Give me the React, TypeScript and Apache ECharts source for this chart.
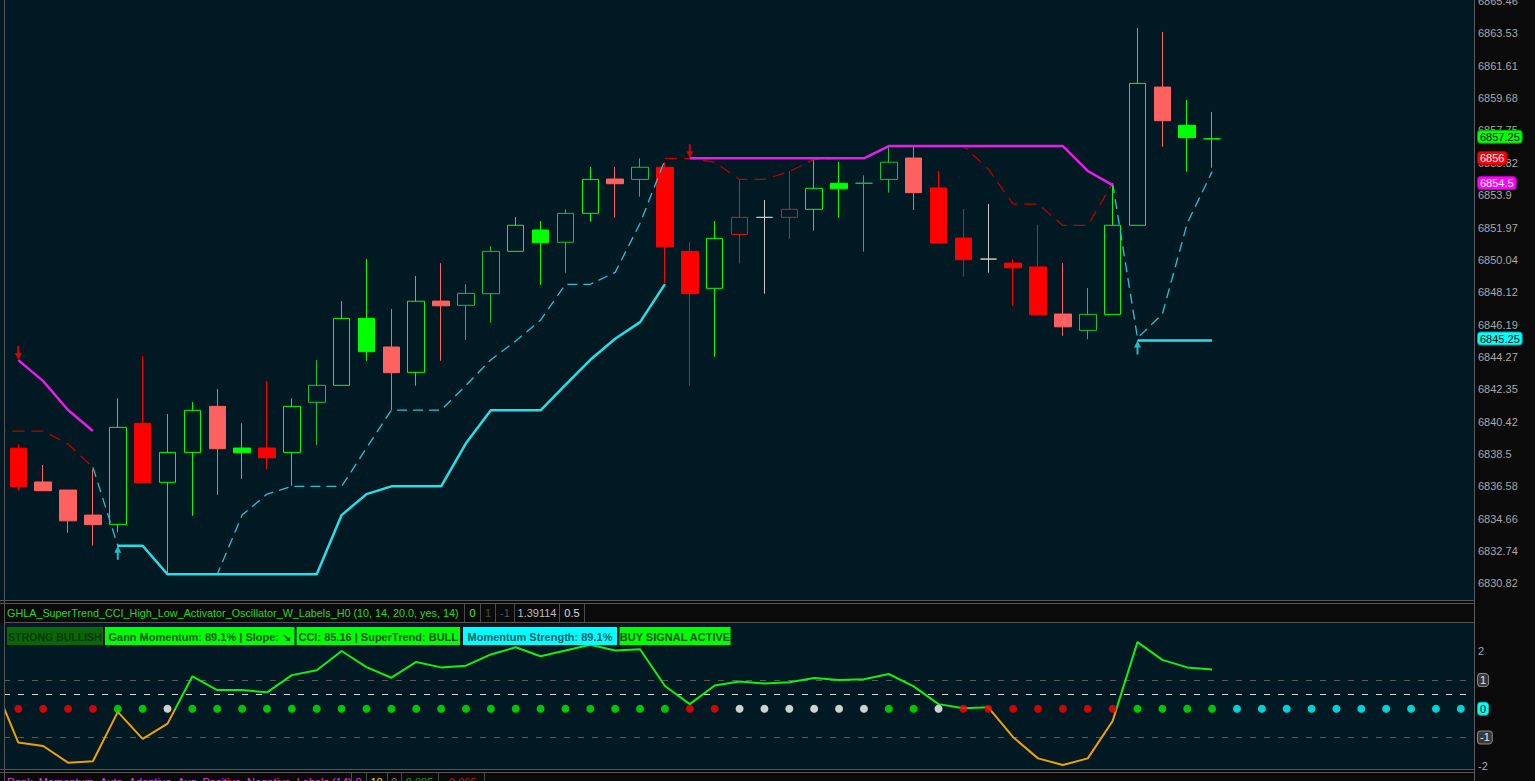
import React, { useEffect, useRef } from "react";
import * as echarts from "echarts";

const FONT = '"Liberation Sans", Arial, sans-serif';

// ---------- DATA ----------
// bar numbers (bar -1 is the partly visible bar at the left edge, bars 49..58 are the empty space on the right)
const FIRST_BAR = -1;
const LAST_BAR = 58;
const X_MIN = -0.575;
const X_MAX = 58.53;

// candles, bars 0..48
const OPEN = [6838.85, 6836.84, 6836.36, 6834.87, 6834.32, 6840.33, 6836.82, 6838.6, 6841.34, 6838.86,
  6838.86, 6838.6, 6841.58, 6842.59, 6846.57, 6844.87, 6843.36, 6847.6, 6847.35, 6848.04,
  6850.56, 6851.83, 6851.1, 6852.82, 6854.86, 6854.84, 6855.56, 6850.56, 6848.36, 6851.57,
  6852.58, 6852.58, 6853.06, 6854.61, 6854.61, 6854.84, 6856.11, 6854.33, 6851.35, 6850.1,
  6849.86, 6849.63, 6846.83, 6845.86, 6846.81, 6852.11, 6860.33, 6858.06, 6857.25];
const CLOSE = [6836.56, 6836.32, 6834.53, 6834.3, 6840.09, 6836.79, 6838.6, 6841.1, 6838.82, 6838.58,
  6838.28, 6841.34, 6842.59, 6846.57, 6844.59, 6843.34, 6847.59, 6847.32, 6848.06, 6850.56,
  6852.11, 6851.07, 6852.82, 6854.84, 6854.58, 6855.56, 6850.83, 6848.04, 6851.33, 6852.58,
  6852.58, 6853.06, 6854.31, 6854.28, 6854.61, 6855.86, 6854.05, 6851.05, 6850.06, 6850.1,
  6849.58, 6846.79, 6846.07, 6846.81, 6852.11, 6860.55, 6858.33, 6857.32, 6857.25];
const LOW = [6836.32, 6836.32, 6833.82, 6833.05, 6833.84, 6836.79, 6831.35, 6834.83, 6836.08, 6837.03,
  6837.59, 6836.62, 6839.05, 6842.59, 6844.05, 6841.12, 6842.57, 6844.05, 6845.3, 6846.31,
  6850.56, 6848.57, 6849.29, 6852.32, 6852.56, 6853.81, 6848.66, 6842.57, 6844.29, 6849.85,
  6848.04, 6851.31, 6851.79, 6852.56, 6850.54, 6854.05, 6853.02, 6851.05, 6849.05, 6849.29,
  6847.32, 6846.79, 6845.54, 6845.33, 6846.81, 6852.11, 6856.78, 6855.3, 6855.53];
const HIGH = [6839.08, 6837.85, 6836.36, 6837.59, 6841.82, 6844.33, 6840.88, 6841.59, 6842.37, 6840.33,
  6842.84, 6841.82, 6844.09, 6847.6, 6850.1, 6847.13, 6849.09, 6849.86, 6848.6, 6850.86,
  6852.6, 6852.36, 6853.06, 6855.58, 6855.58, 6856.09, 6855.86, 6851.1, 6852.36, 6854.84,
  6853.61, 6855.34, 6856.03, 6855.87, 6855.08, 6856.75, 6856.82, 6855.34, 6853.08, 6853.37,
  6850.1, 6852.13, 6849.86, 6848.38, 6854.61, 6863.84, 6863.61, 6859.56, 6858.85];
// candle painting: U hollow green, D hollow dark green, G filled green, R filled red,
// S filled salmon, H hollow red, X grey doji
const CANDLE_KIND = "RSSSURUUSGRUDUGSUSDDUGDUSDRRUHXHUGDDSRRXRRSDUUSGU".split("");

// price axis
const PRICE_MIN = 6829.82;
const PRICE_MAX = 6865.51;
const PRICE_TICKS = [6865.46, 6863.53, 6861.61, 6859.68, 6857.75, 6855.82, 6853.9, 6851.97, 6850.04,
  6848.12, 6846.19, 6844.27, 6842.35, 6840.42, 6838.5, 6836.58, 6834.66, 6832.74, 6830.82];
const PRICE_BADGE_VALUES = [6857.25, 6856, 6854.5, 6845.25];
const PRICE_BADGE_TEXT = ["6857.25", "6856", "6854.5", "6845.25"];

// overlay lines: [first bar, values...]
const RED_DASH: [number, number[]][] = [
  [-1, [6839.87, 6839.87, 6839.87, 6839.1, 6837.71]],
  [26, [6856.09, 6856.09, 6855.85, 6854.84, 6854.84, 6855.3, 6856.03, 6856.09, 6856.09, 6856.82,
    6856.82, 6856.82, 6856.82, 6855.46, 6853.37, 6853.37, 6852.1, 6852.1, 6854.61]],
];
const CYAN_DASH: [number, number[]][] = [
  [3, [6837.71, 6833.05, 6833.05, 6831.35, 6831.35, 6831.35, 6834.87, 6836.12, 6836.58, 6836.58,
    6836.58, 6838.86, 6841.12, 6841.12, 6841.12, 6842.59, 6844.11, 6845.22, 6846.47, 6848.6,
    6848.6, 6849.31, 6852.23, 6855.99]],
  [44, [6854.61, 6845.4, 6846.83, 6852.23, 6855.3]],
];
const CYAN_SOLID: [number, number[]][] = [
  [4, [6833.05, 6833.05, 6831.35, 6831.35, 6831.35, 6831.35, 6831.35, 6831.35, 6831.35, 6834.87,
    6836.12, 6836.58, 6836.58, 6836.58, 6839.14, 6841.1, 6841.1, 6841.1, 6842.61, 6844.11,
    6845.36, 6846.35, 6848.61]],
  [45, [6845.25, 6845.25, 6845.25, 6845.25]],
];
const MAGENTA: [number, number[]][] = [
  [0, [6844.09, 6842.84, 6841.12, 6839.87]],
  [27, [6856.09, 6856.09, 6856.09, 6856.09, 6856.09, 6856.09, 6856.09, 6856.09, 6856.82, 6856.82,
    6856.82, 6856.82, 6856.82, 6856.82, 6856.82, 6856.82, 6855.34, 6854.5]],
];
const SELL_ARROWS: [number, number][] = [[0, 6844.09], [27, 6856.09]];
const BUY_ARROWS: [number, number][] = [[4, 6833.05], [45, 6845.25]];

// oscillator, bars -1..48
const OSC_VALUES = [0.92, -1.18, -1.3, -1.88, -1.83, -0.11, -1.05, -0.52, 1.13, 0.65,
  0.65, 0.57, 1.17, 1.34, 2.01, 1.45, 1.08, 1.63, 1.44, 1.5,
  1.89, 2.14, 1.83, 2.03, 2.23, 2.03, 2.07, 0.79, 0.16, 0.81,
  0.95, 0.88, 0.92, 1.07, 1.0, 1.03, 1.21, 0.78, 0.16, 0.02,
  0.05, -0.99, -1.73, -1.96, -1.73, -0.43, 2.32, 1.7, 1.44, 1.37];
// state dots, bars 0..58
const DOT_STATE = ("RRRRGGW" + "GGGGGGGGGGGGGGGGGGGG" + "RR" + "WWWWWW" + "GG" + "W" + "RRRRRRR" + "GGGG" + "CCCCCCCCCC").split("");
const OSC_MIN = -2.1;
const OSC_MAX = 2.986;
const OSC_TICKS = [2, -2];
const OSC_LEVELS = [1, 0.5, -1, 0];

// texts
const HEADER_TITLE = "GHLA_SuperTrend_CCI_High_Low_Activator_Oscillator_W_Labels_H0 (10, 14, 20.0, yes, 14)";
const HEADER_VALUES = ["0", "1", "-1", "1.39114", "0.5"];
const SIGNAL_LABELS = ["STRONG BULLISH", "Gann Momentum: 89.1% | Slope: \u2198", "CCI: 85.16 | SuperTrend: BULL", "Momentum Strength: 89.1%", "BUY SIGNAL ACTIVE"];
const LOWER_TITLE = "Rank_Momentum_Auto_Adaptive_Avg_Positive_Negative_Labels (14)";
const LOWER_VALUES = ["0", "10", "0", "0.005", "-0.005"];

// ---------- STYLES ----------
const NAVY = "#001923";
const AXIS_TEXT = "#a8a8a8";
const CLEAR = "rgba(0,0,0,0)";
const CANDLE_STYLE: Record<string, { fill: string; stroke: string }> = {
  U: { fill: CLEAR, stroke: "#00ff00" },
  D: { fill: CLEAR, stroke: "#14c43a" },
  G: { fill: "#00ff00", stroke: "#00ff00" },
  R: { fill: "#ff0000", stroke: "#ff0000" },
  S: { fill: "#ff6060", stroke: "#ff6060" },
  H: { fill: CLEAR, stroke: "#e81414" },
  X: { fill: CLEAR, stroke: "#c8c8c8" },
};
const DOT_COLOR: Record<string, string> = { R: "#ff0000", G: "#00f000", W: "#ffffff", C: "#00ffff" };
const BADGE_STYLE = [
  { bg: "#00ff00", fg: "#000000", border: "#00a000" },
  { bg: "#ff0000", fg: "#ffffff", border: "#b00000" },
  { bg: "#ff00ff", fg: "#ffffff", border: "#b000b0" },
  { bg: "#00ffff", fg: "#000000", border: "#00a0a0" },
];
const LEVEL_STYLE = [
  { line: "#5a5a5a", label: { bg: "#3a3a3a", fg: "#e6e6e6", border: "#8a8a8a" } },
  { line: "#d8d8d8", label: null },
  { line: "#5a5a5a", label: { bg: "#3a3a3a", fg: "#e6e6e6", border: "#8a8a8a" } },
  { line: CLEAR, label: { bg: "#00ffff", fg: "#000000", border: "#00b0b0" } },
];
const SIGNAL_BOX = [
  { x: 7, w: 96, bg: "#0b650b", fg: "#063a06", size: 10.5 },
  { x: 105, w: 189.5, bg: "#00ff00", fg: "#0b500b", size: 11 },
  { x: 296.5, w: 163.5, bg: "#00ff00", fg: "#0b500b", size: 11 },
  { x: 463, w: 154, bg: "#00ffff", fg: "#0a5a66", size: 11 },
  { x: 619.5, w: 111, bg: "#00ff00", fg: "#0b500b", size: 11 },
];
const HEADER_CELLS = [
  { x: 472.5, c: "#5fe05f" }, { x: 488, c: "#4c4c4c" }, { x: 505, c: "#555555" },
  { x: 537, c: "#bdbdbd" }, { x: 572, c: "#dcdcdc" },
];
const HEADER_SEPS = [464.5, 480.5, 495.5, 514.5, 559.5, 584.5];
const LOWER_CELLS = [
  { x: 358.5, c: "#e23ee2" }, { x: 376.5, c: "#e6e600" }, { x: 394, c: "#777777" },
  { x: 419.5, c: "#2a8a2a" }, { x: 461, c: "#a82020" },
];
const LOWER_SEPS = [351.5, 366.5, 387.5, 401.5, 438.5, 484.5];

const ARROW_DOWN = "path://M2.5,0 L4.5,0 L4.5,7 L7,7 L3.5,14 L0,7 L2.5,7 Z";
const ARROW_UP = "path://M3.5,0 L7,7 L4.5,7 L4.5,14 L2.5,14 L2.5,7 L0,7 Z";

const ALL_BARS: number[] = Array.from({ length: LAST_BAR - FIRST_BAR + 1 }, (_, k) => k + FIRST_BAR);

function fromSegments(segs: [number, number[]][]) {
  const map = new Map<number, number>();
  segs.forEach(([start, vals]) => vals.forEach((v, i) => map.set(start + i, v)));
  return ALL_BARS.map((b) => [b, map.has(b) ? map.get(b) : "-"]);
}

function buildOption() {
  const candleData = OPEN.map((o, i) => {
    const st = CANDLE_STYLE[CANDLE_KIND[i]];
    return {
      value: [i, o, CLOSE[i], LOW[i], HIGH[i]],
      itemStyle: {
        color: st.fill, color0: st.fill, borderColor: st.stroke, borderColor0: st.stroke,
        borderColorDoji: st.stroke, borderWidth: 1,
      },
    };
  });
  const oscData = OSC_VALUES.map((v, i) => [FIRST_BAR + i, v]);
  const dotData = DOT_STATE.map((s, i) => ({ value: [i, 0], itemStyle: { color: DOT_COLOR[s] } }));
  const empty = ALL_BARS.map((b) => [b, "-"]);

  const lineSeries = (data: any[], color: string, width: number, type: any, z: number) => ({
    type: "line", xAxisIndex: 0, yAxisIndex: 0, data, symbol: "none", connectNulls: false,
    lineStyle: { color, width, type }, z, silent: true,
  });

  const badgeLabel = (text: string, bg: string, fg: string, border: string, dy = 0) => ({
    show: true, position: "end", distance: 4, formatter: text, backgroundColor: bg, color: fg,
    borderColor: border, borderWidth: 1, borderRadius: 3, padding: [1, 2, 0, 2],
    fontSize: 11, fontFamily: FONT, lineHeight: 11, offset: [0, dy],
  });

  const G: any[] = [];
  const gl = (x1: number, y1: number, x2: number, y2: number, stroke: string) =>
    G.push({ type: "line", z: 100, silent: true, shape: { x1, y1, x2, y2 }, style: { stroke, lineWidth: 1 } });
  const gt = (text: string, x: number, y: number, fill: string, font: string, align = "left", va = "middle") =>
    G.push({
      type: "text", z: 102, silent: true, x, y,
      style: { text, fill, font, textAlign: align, align, textVerticalAlign: va, verticalAlign: va },
    });

  // navy strip left of the plotting grids
  G.push({ type: "rect", z: 99, silent: true, shape: { x: 0, y: 0, width: 4, height: 600 }, style: { fill: NAVY } });
  G.push({ type: "rect", z: 99, silent: true, shape: { x: 0, y: 623, width: 4, height: 146 }, style: { fill: NAVY } });
  // header of the oscillator pane
  gt(HEADER_TITLE, 7, 613, "#27d827", `10.8px ${FONT}`);
  HEADER_SEPS.forEach((x) => gl(x, 604, x, 622, "#4a4a4a"));
  HEADER_VALUES.forEach((v, i) => gt(v, HEADER_CELLS[i].x, 613, HEADER_CELLS[i].c, `11px ${FONT}`, "center"));
  // signal label boxes
  SIGNAL_LABELS.forEach((t, i) => {
    const b = SIGNAL_BOX[i];
    G.push({ type: "rect", z: 101, silent: true, shape: { x: b.x, y: 627, width: b.w, height: 18 }, style: { fill: b.bg } });
    gt(t, b.x + b.w / 2, 636.5, b.fg, `bold ${b.size}px ${FONT}`, "center");
  });
  // lower strip
  gt(LOWER_TITLE, 7, 776, "#e040e0", `11px ${FONT}`, "left", "top");
  LOWER_SEPS.forEach((x) => gl(x, 773, x, 781, "#4a4a4a"));
  LOWER_VALUES.forEach((v, i) => gt(v, LOWER_CELLS[i].x, 776, LOWER_CELLS[i].c, `11px ${FONT}`, "center", "top"));
  // frames
  gl(4.5, 0, 4.5, 781, "#555555");
  gl(1474.5, 0, 1474.5, 781, "#5c5c5c");
  gl(0, 600.5, 1474, 600.5, "#555555");
  gl(0, 603.5, 1474, 603.5, "#555555");
  gl(4, 622.5, 1474, 622.5, "#555555");
  gl(0, 769.5, 1474, 769.5, "#555555");
  gl(0, 772.5, 1474, 772.5, "#555555");

  const gridBase = { left: 4, right: 61, show: true, backgroundColor: NAVY, borderWidth: 0, outerBoundsMode: "none", containLabel: false };

  return {
    animation: false,
    backgroundColor: "#0a0a0a",
    grid: [
      { ...gridBase, top: 0, height: 600 },
      { ...gridBase, top: 623, height: 146 },
    ],
    xAxis: [
      { type: "value", gridIndex: 0, min: X_MIN, max: X_MAX, show: false },
      { type: "value", gridIndex: 1, min: X_MIN, max: X_MAX, show: false },
    ],
    yAxis: [
      {
        type: "value", gridIndex: 0, position: "right", min: PRICE_MIN, max: PRICE_MAX,
        splitLine: { show: false }, axisLine: { show: false }, axisTick: { show: false },
        axisLabel: {
          customValues: PRICE_TICKS, formatter: (v: number) => String(v), color: AXIS_TEXT,
          fontSize: 11, fontFamily: FONT, margin: 4,
        },
      },
      {
        type: "value", gridIndex: 1, position: "right", min: OSC_MIN, max: OSC_MAX,
        splitLine: { show: false }, axisLine: { show: false }, axisTick: { show: false },
        axisLabel: {
          customValues: OSC_TICKS, formatter: (v: number) => String(v), color: AXIS_TEXT,
          fontSize: 11, fontFamily: FONT, margin: 4,
        },
      },
    ],
    visualMap: [{
      type: "piecewise", show: false, seriesIndex: 9, dimension: 1,
      pieces: [{ gt: 0, lte: 100, color: "#11ee11" }, { gt: -100, lte: 0, color: "#f0a000" }],
    }],
    series: [
      {
        type: "candlestick", xAxisIndex: 0, yAxisIndex: 0, data: candleData, barWidth: 17, z: 2, silent: true,
      },
      lineSeries(fromSegments(RED_DASH), "#c40000", 1.2, [12, 7], 3),
      lineSeries(fromSegments(CYAN_DASH), "#22c6d6", 1.3, [10, 6], 4),
      lineSeries(fromSegments(CYAN_SOLID), "#25dfe6", 2.5, "solid", 5),
      lineSeries(fromSegments(MAGENTA), "#ec1bec", 2.5, "solid", 5),
      {
        type: "scatter", xAxisIndex: 0, yAxisIndex: 0, z: 6, silent: true,
        data: SELL_ARROWS,
        symbol: ARROW_DOWN, symbolSize: [7, 14], symbolOffset: [0, -7], itemStyle: { color: "#ff0000" },
      },
      {
        type: "scatter", xAxisIndex: 0, yAxisIndex: 0, z: 6, silent: true,
        data: BUY_ARROWS,
        symbol: ARROW_UP, symbolSize: [7, 14], symbolOffset: [0, 7], itemStyle: { color: "#25e6ee" },
      },
      {
        type: "line", xAxisIndex: 0, yAxisIndex: 0, data: empty, symbol: "none", z: 10, silent: true,
        markLine: {
          silent: true, symbol: ["none", "none"], z: 10, lineStyle: { color: CLEAR, width: 0 },
          data: PRICE_BADGE_VALUES.map((v, i) => ({
            yAxis: v,
            label: badgeLabel(PRICE_BADGE_TEXT[i], BADGE_STYLE[i].bg, BADGE_STYLE[i].fg, BADGE_STYLE[i].border, -2),
          })),
        },
      },
      {
        type: "line", xAxisIndex: 1, yAxisIndex: 1, data: empty, symbol: "none", z: 1, silent: true,
        markLine: {
          silent: true, symbol: ["none", "none"], z: 1,
          data: OSC_LEVELS.map((v, i) => {
            const st = LEVEL_STYLE[i];
            return {
              yAxis: v,
              lineStyle: { color: st.line, width: 1, type: [6, 8] },
              label: st.label ? badgeLabel(String(v), st.label.bg, st.label.fg, st.label.border) : { show: false },
            };
          }),
        },
      },
      {
        type: "line", xAxisIndex: 1, yAxisIndex: 1, data: oscData, symbol: "none", connectNulls: false,
        lineStyle: { width: 2 }, z: 3, silent: true,
      },
      {
        type: "scatter", xAxisIndex: 1, yAxisIndex: 1, data: dotData, symbol: "circle", symbolSize: 8,
        z: 4, silent: true,
      },
    ],
    graphic: { elements: G },
  };
}

export default function App() {
  const ref = useRef<HTMLDivElement>(null);
  useEffect(() => {
    if (!ref.current) return;
    const chart = echarts.init(ref.current, null, { renderer: "svg" });
    chart.setOption(buildOption() as any);
    return () => chart.dispose();
  }, []);
  return <div ref={ref} style={{ position: "absolute", left: 0, top: 0, width: 1535, height: 781 }} />;
}
